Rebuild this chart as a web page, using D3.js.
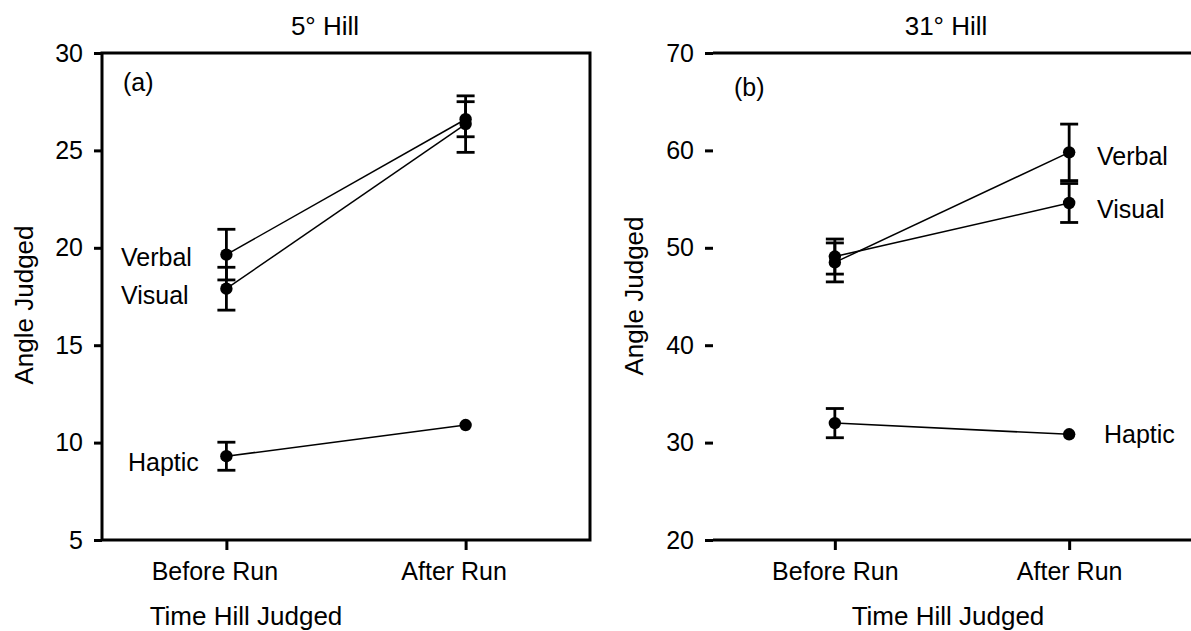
<!DOCTYPE html>
<html>
<head>
<meta charset="utf-8">
<script src="https://cdn.jsdelivr.net/npm/d3@7"></script>
<style>
  body { margin: 0; background: #fff; }
  svg text { font-family: "Liberation Sans", Arial, sans-serif; fill: #000; }
</style>
</head>
<body>
<svg width="1191" height="631"></svg>
<script>
// data
var times = ["Before Run", "After Run"];
var conditions = ["Verbal", "Visual", "Haptic"];

// 5 deg hill: means and error bars for each condition
var hill5Verbal = [19.65, 26.6],  hill5VerbalErr = [1.3, 0.9];
var hill5Visual = [17.9, 26.35],  hill5VisualErr = [1.1, 1.45];
var hill5Haptic = [9.3, 10.9],    hill5HapticErr = [0.72, 0];
var hill5Ticks = [5, 10, 15, 20, 25, 30];

// 31 deg hill
var hill31Verbal = [48.5, 59.8],  hill31VerbalErr = [2.0, 2.9];
var hill31Visual = [49.1, 54.6],  hill31VisualErr = [1.8, 2.0];
var hill31Haptic = [32.0, 30.85], hill31HapticErr = [1.5, 0];
var hill31Ticks = [20, 30, 40, 50, 60, 70];

var svg = d3.select("svg");
var fs = 25, fsTitle = 26;
// builds one panel of the figure
function drawPanel(p) {
  var x = d3.scalePoint().domain(times).range([p.left, p.right]).padding(0.52);
  var y = d3.scaleLinear().domain([p.ticks[0], p.ticks[p.ticks.length - 1]]).range([540, 53]);

  var g = svg.append("g");

  // frame
  g.append("path")
    .attr("d", "M" + p.left + ",53H" + p.right + (p.closed ? "V540" : "M" + p.right + ",540") + "H" + p.left + "Z")
    .attr("fill", "none").attr("stroke", "#000").attr("stroke-width", 3);

  var yAxis = g.append("g")
    .attr("transform", "translate(" + p.left + ",0)")
    .call(d3.axisLeft(y).tickValues(p.ticks).tickSize(8).tickPadding(11).tickSizeOuter(0));
  var xAxis = g.append("g")
    .attr("transform", "translate(0,540)")
    .call(d3.axisBottom(x).tickSize(10).tickPadding(12).tickSizeOuter(0));
  [xAxis, yAxis].forEach(function(a) {
    a.select(".domain").remove();
    a.selectAll("line").attr("stroke", "#000").attr("stroke-width", 3);
    a.selectAll("text").attr("font-size", fs).attr("font-family", null);
  });
  xAxis.selectAll("text").attr("dx", p.tickDx);

  // lines between the two times
  var line = d3.line().x(function(d, i) { return x(times[i]); }).y(function(d) { return y(d); });
  p.series.forEach(function(s) {
    g.append("path").datum(s.values).attr("d", line)
      .attr("fill", "none").attr("stroke", "#000").attr("stroke-width", 1.5);
  });

  // error bars (none drawn where the bar is too small to show)
  p.series.forEach(function(s) {
    s.values.forEach(function(v, i) {
      var cx = x(times[i]), e = s.err[i];
      if (!e) return;
      var eb = g.append("g").attr("stroke", "#000").attr("stroke-width", 2.8);
      eb.append("line").attr("x1", cx).attr("x2", cx).attr("y1", y(v - e)).attr("y2", y(v + e));
      eb.append("line").attr("x1", cx - 9).attr("x2", cx + 9).attr("y1", y(v + e)).attr("y2", y(v + e));
      eb.append("line").attr("x1", cx - 9).attr("x2", cx + 9).attr("y1", y(v - e)).attr("y2", y(v - e));
    });
  });

  // dots
  p.series.forEach(function(s) {
    g.selectAll(null).data(s.values).enter().append("circle")
      .attr("cx", function(d, i) { return x(times[i]); })
      .attr("cy", function(d) { return y(d); })
      .attr("r", 6.2).attr("fill", "#000");
  });

  // condition labels
  p.series.forEach(function(s, k) {
    var lab = p.labels[k];
    g.append("text").attr("x", lab.x).attr("y", y(s.values[lab.at]) + lab.dy)
      .attr("font-size", fs).text(s.name);
  });

  g.append("text").attr("x", p.left + 21).attr("y", p.tagY).attr("font-size", fs).text(p.tag);
  g.append("text").attr("x", p.titleX).attr("y", 35).attr("text-anchor", "middle")
    .attr("font-size", fsTitle).text(p.title);
  g.append("text").attr("x", p.xLabelX).attr("y", 625).attr("text-anchor", "middle")
    .attr("font-size", fsTitle).text("Time Hill Judged");
  g.append("text").attr("transform", "translate(" + p.yLabelX + "," + p.yLabelY + ") rotate(-90)")
    .attr("text-anchor", "middle").attr("font-size", fsTitle).text("Angle Judged");
}

drawPanel({
  left: 102, right: 590, closed: true, ticks: hill5Ticks, tickDx: -12,
  title: "5\u00b0 Hill", titleX: 325, tag: "(a)", tagY: 91,
  xLabelX: 246, yLabelX: 33, yLabelY: 305,
  series: [
    {name: conditions[0], values: hill5Verbal, err: hill5VerbalErr},
    {name: conditions[1], values: hill5Visual, err: hill5VisualErr},
    {name: conditions[2], values: hill5Haptic, err: hill5HapticErr}
  ],
  labels: [{x: 121, at: 0, dy: 11}, {x: 121, at: 0, dy: 15}, {x: 128, at: 0, dy: 15}]
});

drawPanel({
  left: 713, right: 1191, closed: false, ticks: hill31Ticks, tickDx: 0,
  title: "31\u00b0 Hill", titleX: 946, tag: "(b)", tagY: 96,
  xLabelX: 948, yLabelX: 643, yLabelY: 296,
  series: [
    {name: conditions[0], values: hill31Verbal, err: hill31VerbalErr},
    {name: conditions[1], values: hill31Visual, err: hill31VisualErr},
    {name: conditions[2], values: hill31Haptic, err: hill31HapticErr}
  ],
  labels: [{x: 1097, at: 1, dy: 13}, {x: 1097, at: 1, dy: 15}, {x: 1104, at: 1, dy: 9}]
});
</script>
</body>
</html>
